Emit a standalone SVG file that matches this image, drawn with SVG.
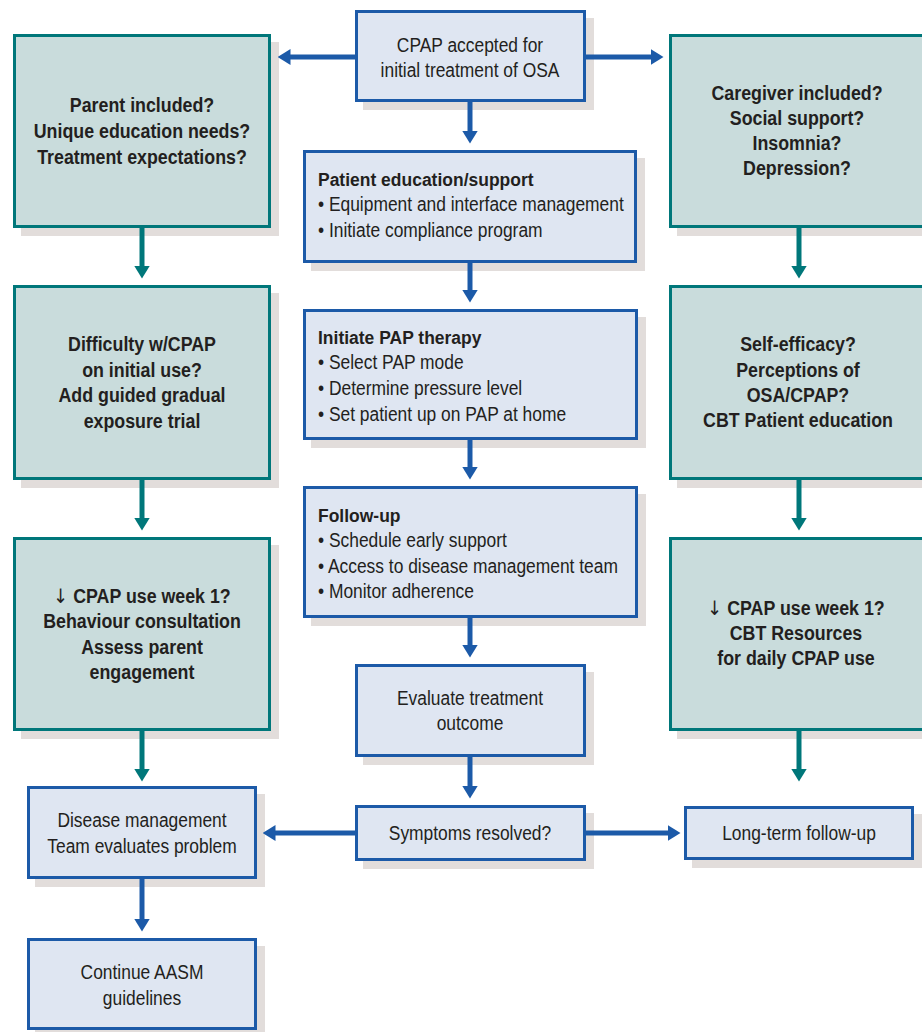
<svg xmlns="http://www.w3.org/2000/svg" width="922" height="1032" viewBox="0 0 922 1032">
  <style>
    .shadow { fill: #e2dddb; }
    .blue { fill: #dfe6f2; stroke: #1c5aa8; stroke-width: 3; }
    .teal { fill: #c9dcdc; stroke: #00777a; stroke-width: 3; }
    text { font-family: "Liberation Sans", Arial, Helvetica, sans-serif; fill: #231f20; }
    .reg { font-size: 20px; }
    .bold { font-size: 20px; font-weight: bold; }
    .head { font-size: 19px; font-weight: bold; }
    .c { text-anchor: middle; }
    .down { font-family: "DejaVu Sans", sans-serif; font-weight: normal; }
    .conn-blue { fill: none; stroke: #1c5aa8; stroke-width: 5; marker-end: url(#headBlue); }
    .conn-teal { fill: none; stroke: #00777a; stroke-width: 5; marker-end: url(#headTeal); }
  </style>
  <defs>
    <marker id="headBlue" markerUnits="userSpaceOnUse" viewBox="0 0 13 16" refX="0.5" refY="8" markerWidth="13" markerHeight="16" orient="auto">
      <path d="M0,0 L13,8 L0,16 Z" fill="#1c5aa8"/>
    </marker>
    <marker id="headTeal" markerUnits="userSpaceOnUse" viewBox="0 0 13 16" refX="0.5" refY="8" markerWidth="13" markerHeight="16" orient="auto">
      <path d="M0,0 L13,8 L0,16 Z" fill="#00777a"/>
    </marker>
  </defs>

  <rect width="922" height="1032" fill="#ffffff"/>

  <!-- Centre column -->
  <g id="cpap-accepted">
    <rect class="shadow" x="363" y="18" width="231" height="92"/>
    <rect class="blue" x="356.5" y="11.5" width="228" height="89"/>
    <g transform="translate(470 0) scale(0.87 1)">
      <text class="reg c" x="0" y="52">CPAP accepted for</text>
      <text class="reg c" x="0" y="77">initial treatment of OSA</text>
    </g>
  </g>

  <g id="patient-education">
    <rect class="shadow" x="311" y="158" width="334" height="113"/>
    <rect class="blue" x="304.5" y="151.5" width="331" height="110"/>
    <g transform="translate(318 0) scale(0.92 1)">
      <text class="head" x="0" y="186">Patient education/support</text>
    </g>
    <g transform="translate(318 0) scale(0.87 1)">
      <text class="reg" x="0" y="211">• Equipment and interface management</text>
      <text class="reg" x="0" y="237">• Initiate compliance program</text>
    </g>
  </g>

  <g id="initiate-pap">
    <rect class="shadow" x="311" y="317" width="335" height="131"/>
    <rect class="blue" x="304.5" y="310.5" width="332" height="128"/>
    <g transform="translate(318 0) scale(0.92 1)">
      <text class="head" x="0" y="344">Initiate PAP therapy</text>
    </g>
    <g transform="translate(318 0) scale(0.87 1)">
      <text class="reg" x="0" y="369">• Select PAP mode</text>
      <text class="reg" x="0" y="395">• Determine pressure level</text>
      <text class="reg" x="0" y="421">• Set patient up on PAP at home</text>
    </g>
  </g>

  <g id="follow-up">
    <rect class="shadow" x="311" y="494" width="335" height="132"/>
    <rect class="blue" x="304.5" y="487.5" width="332" height="129"/>
    <g transform="translate(318 0) scale(0.92 1)">
      <text class="head" x="0" y="522">Follow-up</text>
    </g>
    <g transform="translate(318 0) scale(0.87 1)">
      <text class="reg" x="0" y="547">• Schedule early support</text>
      <text class="reg" x="0" y="573">• Access to disease management team</text>
      <text class="reg" x="0" y="598">• Monitor adherence</text>
    </g>
  </g>

  <g id="evaluate-outcome">
    <rect class="shadow" x="363" y="672" width="231" height="93"/>
    <rect class="blue" x="356.5" y="665.5" width="228" height="90"/>
    <g transform="translate(470 0) scale(0.87 1)">
      <text class="reg c" x="0" y="705">Evaluate treatment</text>
      <text class="reg c" x="0" y="730">outcome</text>
    </g>
  </g>

  <g id="symptoms-resolved">
    <rect class="shadow" x="363" y="813" width="231" height="56"/>
    <rect class="blue" x="356.5" y="806.5" width="228" height="53"/>
    <g transform="translate(470 0) scale(0.87 1)">
      <text class="reg c" x="0" y="840">Symptoms resolved?</text>
    </g>
  </g>

  <g id="long-term-follow-up">
    <rect class="shadow" x="692" y="814" width="230" height="54"/>
    <rect class="blue" x="685.5" y="807.5" width="227" height="51"/>
    <g transform="translate(799 0) scale(0.87 1)">
      <text class="reg c" x="0" y="840">Long-term follow-up</text>
    </g>
  </g>

  <g id="disease-management">
    <rect class="shadow" x="35" y="794" width="230" height="93"/>
    <rect class="blue" x="28.5" y="787.5" width="227" height="90"/>
    <g transform="translate(142 0) scale(0.87 1)">
      <text class="reg c" x="0" y="827">Disease management</text>
      <text class="reg c" x="0" y="853">Team evaluates problem</text>
    </g>
  </g>

  <g id="continue-aasm">
    <rect class="shadow" x="35" y="946" width="230" height="92"/>
    <rect class="blue" x="28.5" y="939.5" width="227" height="89"/>
    <g transform="translate(142 0) scale(0.87 1)">
      <text class="reg c" x="0" y="979">Continue AASM</text>
      <text class="reg c" x="0" y="1005">guidelines</text>
    </g>
  </g>

  <!-- Left column -->
  <g id="parent-included">
    <rect class="shadow" x="21" y="42" width="258" height="194"/>
    <rect class="teal" x="14.5" y="35.5" width="255" height="191"/>
    <g transform="translate(142 0) scale(0.89 1)">
      <text class="bold c" x="0" y="112">Parent included?</text>
      <text class="bold c" x="0" y="138">Unique education needs?</text>
      <text class="bold c" x="0" y="164">Treatment expectations?</text>
    </g>
  </g>

  <g id="difficulty-initial-use">
    <rect class="shadow" x="21" y="293" width="258" height="195"/>
    <rect class="teal" x="14.5" y="286.5" width="255" height="192"/>
    <g transform="translate(142 0) scale(0.89 1)">
      <text class="bold c" x="0" y="351">Difficulty w/CPAP</text>
      <text class="bold c" x="0" y="377">on initial use?</text>
      <text class="bold c" x="0" y="402">Add guided gradual</text>
      <text class="bold c" x="0" y="428">exposure trial</text>
    </g>
  </g>

  <g id="low-use-behaviour">
    <rect class="shadow" x="21" y="545" width="258" height="194"/>
    <rect class="teal" x="14.5" y="538.5" width="255" height="191"/>
    <g transform="translate(142 0) scale(0.89 1)">
      <text class="bold c" x="0" y="603"><tspan class="down">↓</tspan> CPAP use week 1?</text>
      <text class="bold c" x="0" y="628">Behaviour consultation</text>
      <text class="bold c" x="0" y="654">Assess parent</text>
      <text class="bold c" x="0" y="679">engagement</text>
    </g>
  </g>

  <!-- Right column -->
  <g id="caregiver-included">
    <rect class="shadow" x="677" y="42" width="260" height="194"/>
    <rect class="teal" x="670.5" y="35.5" width="257" height="191"/>
    <g transform="translate(797 0) scale(0.89 1)">
      <text class="bold c" x="0" y="100">Caregiver included?</text>
      <text class="bold c" x="0" y="125">Social support?</text>
      <text class="bold c" x="0" y="150">Insomnia?</text>
      <text class="bold c" x="0" y="175">Depression?</text>
    </g>
  </g>

  <g id="self-efficacy">
    <rect class="shadow" x="677" y="293" width="260" height="195"/>
    <rect class="teal" x="670.5" y="286.5" width="257" height="192"/>
    <g transform="translate(798 0) scale(0.89 1)">
      <text class="bold c" x="0" y="351">Self-efficacy?</text>
      <text class="bold c" x="0" y="377">Perceptions of</text>
      <text class="bold c" x="0" y="402">OSA/CPAP?</text>
      <text class="bold c" x="0" y="427">CBT Patient education</text>
    </g>
  </g>

  <g id="low-use-cbt">
    <rect class="shadow" x="677" y="545" width="260" height="194"/>
    <rect class="teal" x="670.5" y="538.5" width="257" height="191"/>
    <g transform="translate(796 0) scale(0.89 1)">
      <text class="bold c" x="0" y="615"><tspan class="down">↓</tspan> CPAP use week 1?</text>
      <text class="bold c" x="0" y="640">CBT Resources</text>
      <text class="bold c" x="0" y="665">for daily CPAP use</text>
    </g>
  </g>

  <!-- Connectors -->
  <g id="connectors">
    <path class="conn-blue" d="M355 57 H290"/>
    <path class="conn-blue" d="M586 57 H651"/>
    <path class="conn-blue" d="M470 102 V131"/>
    <path class="conn-blue" d="M470 263 V290"/>
    <path class="conn-blue" d="M470 440 V467"/>
    <path class="conn-blue" d="M470 618 V645"/>
    <path class="conn-blue" d="M470 757 V786"/>
    <path class="conn-blue" d="M355 833 H275"/>
    <path class="conn-blue" d="M586 833 H668"/>
    <path class="conn-blue" d="M142 879 V919"/>
    <path class="conn-teal" d="M142 228 V266"/>
    <path class="conn-teal" d="M142 480 V518"/>
    <path class="conn-teal" d="M142 731 V769"/>
    <path class="conn-teal" d="M799 228 V266"/>
    <path class="conn-teal" d="M799 480 V518"/>
    <path class="conn-teal" d="M799 731 V769"/>
  </g>
</svg>
